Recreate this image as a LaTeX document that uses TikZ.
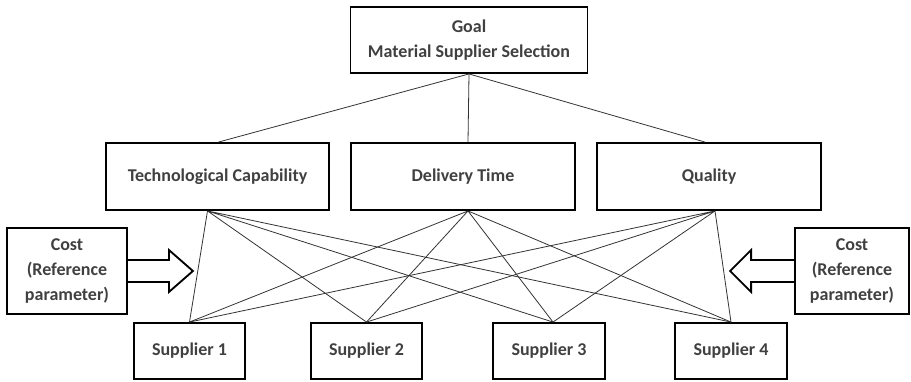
\documentclass[tikz,border=0pt]{standalone}
\usepackage{fontspec}
\setmainfont{Carlito}
\usepackage{xcolor}
\begin{document}
\begin{tikzpicture}
    [x=0.75pt,y=-0.75pt,
     box/.style={draw,line width=1.4pt,align=center,inner sep=0pt,
         font=\bfseries\fontsize{13.5}{19}\selectfont,text=black!75},
     link/.style={line width=0.6pt,black!80}]
\useasboundingbox (0,0) rectangle (911,382);
\path
    (469,40) node [box,minimum width=177.75pt,minimum height=49.5pt] (goal)
        {Goal\\Material Supplier Selection}
    [minimum width=167.5pt,minimum height=50.25pt]
    (217.5,176.5) node [box] (tech) {Technological Capability}
    (463,176.5) node [box] (delivery) {Delivery Time}
    (709,176.5) node [box] (quality) {Quality}
    [minimum width=83.5pt,minimum height=42pt]
    (189.5,351) node [box] (sup1) {Supplier 1}
    (366.5,351) node [box] (sup2) {Supplier 2}
    (549,351) node [box] (sup3) {Supplier 3}
    (731,351) node [box] (sup4) {Supplier 4}
    [minimum height=64.5pt]
    (67,271) node [box,minimum width=90pt] (costl) {Cost\\(Reference\\parameter)}
    (852,271) node [box,minimum width=85.5pt] (costr) {Cost\\(Reference\\parameter)};
% goal to criteria
\draw [link] (goal.south) -- ([xshift=0.75pt]tech.north);
\draw [link] (goal.south) -- ([xshift=3.75pt]delivery.north);
\draw [link] (goal.south) -- ([xshift=-3pt]quality.north);
% criteria to suppliers
\coordinate (techb) at ([xshift=-7.5pt]tech.south);
\coordinate (delb) at ([xshift=3.75pt]delivery.south);
\coordinate (qualb) at ([xshift=4.5pt]quality.south);
\draw [link] (techb) -- (sup1.north) (techb) -- (sup2.north)
    (techb) -- ([xshift=3pt]sup3.north) (techb) -- (sup4.north);
\draw [link] (delb) -- (sup1.north) (delb) -- (sup2.north)
    (delb) -- ([xshift=3pt]sup3.north) (delb) -- (sup4.north);
\draw [link] (qualb) -- (sup1.north) (qualb) -- (sup2.north)
    (qualb) -- ([xshift=3pt]sup3.north) (qualb) -- (sup4.north);
% reference parameter arrows
\draw [line width=1.4pt,line join=miter] (costl.east) ++(0,-11) -- ++(41,0) -- ++(0,-10)
    -- ++(24,21) -- ++(-24,21) -- ++(0,-10) -- ++(-41,0);
\draw [line width=1.4pt,line join=miter] (costr.west) ++(0,-11) -- ++(-43,0) -- ++(0,-10)
    -- ++(-21,21) -- ++(21,21) -- ++(0,-10) -- ++(43,0);
\end{tikzpicture}
\end{document}
